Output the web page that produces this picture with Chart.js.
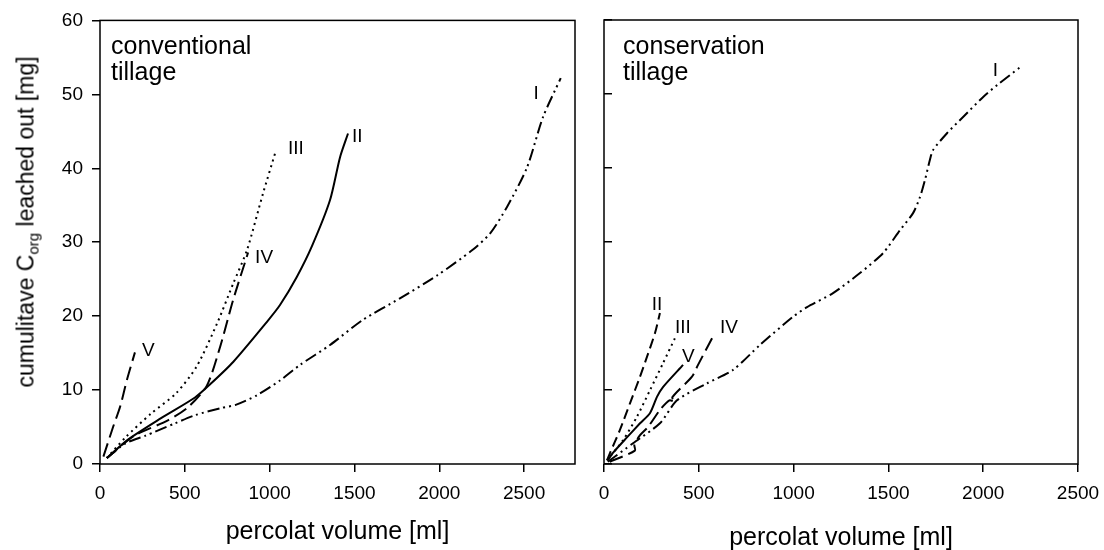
<!DOCTYPE html>
<html lang="en">

<head>
    <meta charset="UTF-8">
    <script src="https://cdn.jsdelivr.net/npm/chart.js"></script>
    <title>Cumulative Corg leached out</title>
    <style>
        body {
            margin: 0;
            width: 1104px;
            height: 550px;
            overflow: hidden;
            background: #fff;
            position: relative;
            font-family: "Liberation Sans", Arial, sans-serif;
        }

        #conv { position: absolute; left: 0; top: 0; }
        #cons { position: absolute; left: 570px; top: 0; }

        #ytitle {
            position: absolute;
            left: 26px;
            top: 222px;
            transform: translate(-50%, -50%) rotate(-90deg);
            white-space: nowrap;
            font-size: 23px;
            color: #000;
        }

        #ytitle sub { font-size: 15px; vertical-align: -5px; line-height: 0; }
    </style>
    <script>
        // series names (curve labels)
        const seriesNames = ['I', 'II', 'III', 'IV', 'V'];

        // conventional tillage: [percolat volume ml, cumulative Corg mg]
        const convI = [[40, 0.8], [150, 2.8], [265, 3.8], [442, 5.5], [560, 6.6], [719, 7.6], [800, 8.0], [925, 9.3], [1061, 11.3], [1179, 13.4], [1356, 16.1], [1550, 19.5], [1768, 22.4], [1987, 25.5], [2193, 28.9], [2300, 31.2], [2400, 34.8], [2517, 40.1], [2611, 46.9], [2716, 52.2]];
        const convII = [[40, 0.8], [165, 3.3], [360, 6.2], [560, 9.0], [650, 10.8], [785, 13.8], [983, 19.2], [1061, 21.5], [1160, 25.3], [1250, 29.5], [1356, 35.7], [1415, 41.5], [1462, 44.7]];
        const convIII = [[40, 0.8], [150, 3.6], [300, 6.8], [450, 9.6], [570, 13.2], [690, 19.0], [785, 24.4], [866, 28.9], [961, 36.6], [1037, 42.4]];
        const convIV = [[40, 0.8], [200, 3.8], [400, 5.9], [520, 7.7], [630, 10.6], [710, 16.0], [785, 22.2], [873, 28.6]];
        const convV = [[20, 1.0], [77, 5.0], [118, 7.7], [159, 11.4], [206, 15.1]];

        // conservation tillage
        const consI = [[20, 0.3], [153, 2.8], [295, 5.5], [385, 8.6], [543, 10.9], [680, 12.7], [823, 16.1], [997, 19.9], [1071, 21.2], [1208, 23.1], [1350, 25.8], [1472, 28.5], [1561, 31.6], [1630, 33.9], [1667, 36.1], [1693, 38.4], [1719, 41.1], [1735, 42.4], [1809, 44.7], [1894, 46.9], [2000, 49.6], [2073, 51.2], [2194, 53.6]];
        const consII = [[16, 0.5], [32, 1.5], [84, 4.6], [137, 8.2], [190, 11.8], [227, 14.5], [269, 17.7], [295, 20.4]];
        const consIII = [[16, 0.5], [100, 3.2], [174, 6.4], [243, 10.0], [311, 13.6], [374, 17.0]];
        const consIV = [[30, 0.3], [163, 1.8], [160, 2.6], [190, 3.9], [232, 5.0], [295, 7.3], [345, 8.6], [375, 8.4], [360, 9.0], [464, 11.8], [496, 13.4], [570, 17.0]];
        const consV = [[20, 0.5], [47, 1.5], [121, 3.6], [190, 5.5], [243, 6.9], [280, 9.1], [311, 10.4], [417, 13.4]];

        // axes
        const convXMax = 2800;
        const consXMax = 2500;
        const yMax = 60;
        const xTicks = [0, 500, 1000, 1500, 2000, 2500];
        const yTicks = [0, 10, 20, 30, 40, 50, 60];

        const FONT = '"Liberation Sans", Arial, sans-serif';

        // line styles
        const dashDotDot = [12, 4, 2, 4, 2, 4];
        const dotted = [2, 4];
        const longDash = [14, 6];
        const dash = [10, 5];

        // draws box, panel note and curve labels
        const panelDeco = {
            id: 'panelDeco',
            afterDatasetsDraw(chart, args, opts) {
                const ctx = chart.ctx;
                const a = chart.chartArea;
                ctx.save();
                ctx.strokeStyle = '#000';
                ctx.lineWidth = 1.5;
                ctx.strokeRect(a.left, a.top, a.right - a.left, a.bottom - a.top);

                ctx.fillStyle = '#000';
                ctx.font = '25px ' + FONT;
                ctx.textAlign = 'left';
                ctx.textBaseline = 'alphabetic';
                opts.note.forEach((line, i) => {
                    ctx.fillText(line, a.left + opts.noteX, a.top + 34 + i * 26);
                });

                ctx.font = '19px ' + FONT;
                ctx.textBaseline = 'middle';
                chart.data.datasets.forEach((ds, i) => {
                    const last = ds.data[ds.data.length - 1];
                    const px = chart.scales.x.getPixelForValue(last.x);
                    const py = chart.scales.y.getPixelForValue(last.y);
                    const o = opts.offsets[i];
                    ctx.textAlign = o[2];
                    ctx.fillText(ds.label, px + o[0], py + o[1]);
                });
                ctx.restore();
            }
        };

        function makePanel(id, series, dashes, xMax, yLabels, note, noteX, offsets, padRight, yWidth, titlePad) {
            const datasets = series.map((s, i) => ({
                label: seriesNames[i],
                data: s.map(p => ({ x: p[0], y: p[1] })),
                showLine: true,
                borderColor: '#000',
                borderWidth: 2,
                borderDash: dashes[i],
                pointRadius: 0,
                tension: 0.25,
                fill: false
            }));

            return new Chart(document.getElementById(id), {
                type: 'scatter',
                data: { datasets: datasets },
                plugins: [panelDeco],
                options: {
                    responsive: false,
                    animation: false,
                    layout: { padding: { top: 20, right: padRight, left: 0, bottom: 0 } },
                    plugins: {
                        legend: { display: false },
                        tooltip: { enabled: false },
                        panelDeco: { note: note, noteX: noteX, offsets: offsets }
                    },
                    scales: {
                        x: {
                            type: 'linear',
                            min: 0,
                            max: xMax,
                            afterFit: s => { s.height = 86; },
                            afterBuildTicks: s => { s.ticks = xTicks.map(v => ({ value: v })); },
                            border: { display: false },
                            grid: { drawOnChartArea: false, tickLength: 8, color: '#000', lineWidth: 1.5 },
                            ticks: { padding: 10, color: '#000', font: { family: FONT, size: 19 }, callback: v => String(v) },
                            title: { display: true, text: 'percolat volume [ml]', color: '#000', padding: { top: 0, bottom: titlePad }, font: { family: FONT, size: 25 } }
                        },
                        y: {
                            type: 'linear',
                            min: 0,
                            max: yMax,
                            afterFit: s => { s.width = yWidth; },
                            afterBuildTicks: s => { s.ticks = yTicks.map(v => ({ value: v })); },
                            border: { display: false },
                            grid: { drawOnChartArea: false, tickLength: yLabels ? 8 : -8, color: '#000', lineWidth: 1.5 },
                            ticks: { display: yLabels, padding: 9, color: '#000', font: { family: FONT, size: 19 }, callback: v => String(v) }
                        }
                    }
                }
            });
        }

        function createCharts() {
            makePanel('conv', [convI, convII, convIII, convIV, convV],
                [dashDotDot, [], dotted, longDash, longDash],
                convXMax, true, ['conventional', 'tillage'], 11,
                [[-22, 16, 'right'], [4, 3, 'left'], [12, -2, 'left'], [7, 5, 'left'], [7, -2, 'left']],
                15, 100, 3);

            makePanel('cons', [consI, consII, consIII, consIV, consV],
                [dashDotDot, dash, dotted, longDash, []],
                consXMax, false, ['conservation', 'tillage'], 19,
                [[-22, 3, 'right'], [-3, -8, 'center'], [0, -10, 'left'], [8, -10, 'left'], [-1, -8, 'left']],
                52, 34, -3);
        }
    </script>
</head>

<body>
    <canvas id="conv" width="590" height="550"></canvas>
    <canvas id="cons" width="560" height="550"></canvas>
    <div id="ytitle">cumulitave C<sub>org</sub> leached out [mg]</div>
    <script>
        document.addEventListener('DOMContentLoaded', createCharts());
    </script>
</body>

</html>
